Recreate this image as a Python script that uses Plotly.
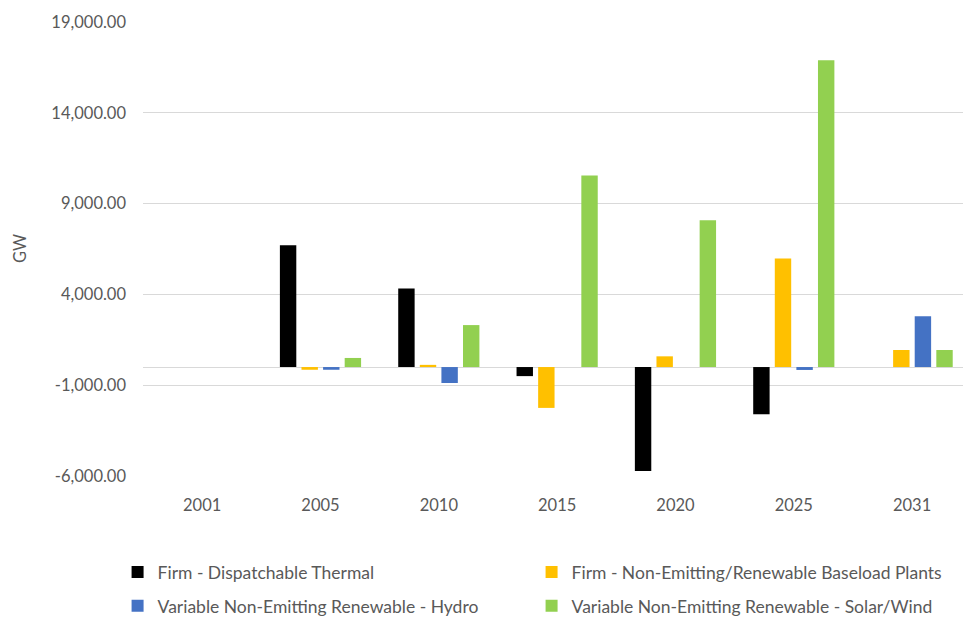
import plotly.graph_objects as go

# Capacity change by period (GW)
years = ["2001", "2005", "2010", "2015", "2020", "2025", "2031"]
thermal = [0, 6700, 4330, -500, -5730, -2600, 0]
baseload = [0, -150, 120, -2250, 590, 5980, 940]
hydro = [0, -150, -880, 0, 0, -160, 2790]
solar_wind = [0, 500, 2310, 10550, 8080, 16890, 940]

# Value axis ticks (hyphen-minus labels as in the spreadsheet)
y_ticks = [-6000, -1000, 4000, 9000, 14000, 19000]
y_tick_labels = ["-6,000.00", "-1,000.00", "4,000.00", "9,000.00", "14,000.00", "19,000.00"]

series = [
    ("Firm - Dispatchable Thermal", thermal, "#000000", "legend"),
    ("Firm - Non-Emitting/Renewable Baseload Plants", baseload, "#FFC000", "legend"),
    ("Variable Non-Emitting Renewable - Hydro", hydro, "#4472C4", "legend2"),
    ("Variable Non-Emitting Renewable - Solar/Wind", solar_wind, "#92D050", "legend2"),
]

FONT = "Lato"
GREY = "#595959"

fig = go.Figure()
for name, vals, color, leg in series:
    fig.add_trace(go.Bar(
        x=years, y=vals, name=name, legend=leg,
        marker=dict(color=color, line=dict(width=0)),
    ))

legend_style = dict(
    orientation="h", entrywidth=369, entrywidthmode="pixels",
    xanchor="left", yanchor="middle", x=-0.031,
    font=dict(family=FONT, size=17.5, color=GREY),
    bgcolor="rgba(0,0,0,0)", itemclick=False,
)

fig.update_layout(
    width=963, height=619,
    margin=dict(l=143, r=0, t=22, b=143, autoexpand=False),
    paper_bgcolor="white", plot_bgcolor="white",
    barmode="group", bargap=0.27, bargroupgap=0.24,
    font=dict(family=FONT, color=GREY),
    legend=dict(legend_style, y=-0.2115),
    legend2=dict(legend_style, y=-0.2863),
    xaxis=dict(
        type="category", range=[-0.5, 6.43],
        showgrid=False, showline=False, ticks="",
        tickfont=dict(family=FONT, size=16.5, color=GREY),
        ticklabelstandoff=17,
    ),
    yaxis=dict(
        range=[-6000, 19000],
        tickmode="array", tickvals=y_ticks, ticktext=y_tick_labels,
        showgrid=True, gridcolor="#D9D9D9", gridwidth=1.3,
        zeroline=True, zerolinecolor="#D9D9D9", zerolinewidth=1.3,
        showline=False, ticks="",
        tickfont=dict(family=FONT, size=16.5, color=GREY),
        ticklabelstandoff=16,
    ),
    annotations=[dict(
        text="GW", textangle=-90, xref="paper", yref="paper",
        x=-0.15, y=0.5, xanchor="center", yanchor="middle",
        showarrow=False, font=dict(family=FONT, size=16.5, color=GREY),
    )],
)

fig.write_html("out.html")
